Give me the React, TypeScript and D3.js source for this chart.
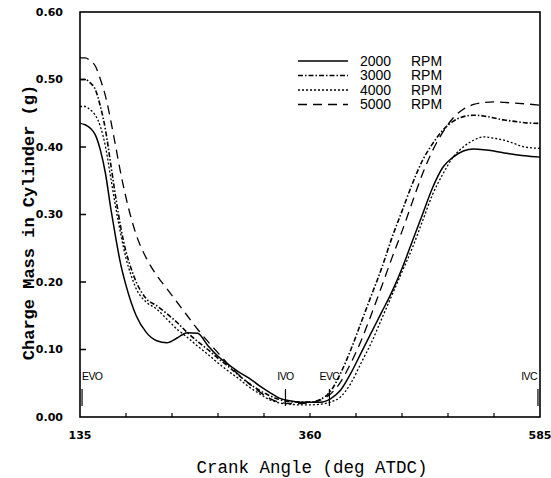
import React, { useEffect, useRef } from 'react';
import * as d3 from 'd3';

// crank angle grid (deg ATDC) shared by all four speed curves
const angles = [135, 140, 145, 150, 155, 160, 165, 170, 175, 180, 185, 190, 200, 210, 220, 230, 240, 250, 260, 270, 280, 290, 300, 310, 320, 330, 340, 350, 360, 370, 380, 390, 400, 410, 420, 430, 440, 450, 460, 470, 480, 490, 500, 510, 520, 530, 540, 550, 560, 570, 585];

const rpm2000 = [0.435, 0.433, 0.428, 0.418, 0.395, 0.36, 0.31, 0.265, 0.225, 0.195, 0.17, 0.15, 0.125, 0.113, 0.11, 0.117, 0.125, 0.124, 0.106, 0.09, 0.078, 0.067, 0.058, 0.047, 0.037, 0.028, 0.024, 0.022, 0.022, 0.022, 0.027, 0.04, 0.065, 0.095, 0.125, 0.155, 0.185, 0.22, 0.26, 0.3, 0.34, 0.37, 0.385, 0.394, 0.397, 0.396, 0.394, 0.391, 0.389, 0.387, 0.385];
const rpm3000 = [0.5, 0.5, 0.495, 0.485, 0.46, 0.425, 0.375, 0.325, 0.28, 0.245, 0.22, 0.2, 0.175, 0.165, 0.153, 0.14, 0.125, 0.112, 0.1, 0.087, 0.075, 0.062, 0.05, 0.04, 0.032, 0.026, 0.023, 0.022, 0.022, 0.026, 0.038, 0.065, 0.1, 0.14, 0.18, 0.22, 0.265, 0.305, 0.345, 0.38, 0.405, 0.425, 0.438, 0.445, 0.447, 0.446, 0.443, 0.44, 0.438, 0.436, 0.435];
const rpm4000 = [0.46, 0.46, 0.455, 0.447, 0.43, 0.4, 0.355, 0.31, 0.27, 0.235, 0.21, 0.19, 0.17, 0.16, 0.145, 0.13, 0.118, 0.105, 0.093, 0.08, 0.068, 0.057, 0.045, 0.035, 0.026, 0.021, 0.019, 0.018, 0.018, 0.019, 0.022, 0.03, 0.05, 0.08, 0.11, 0.145, 0.18, 0.215, 0.25, 0.29, 0.33, 0.36, 0.385, 0.4, 0.41, 0.415, 0.413, 0.41, 0.405, 0.4, 0.398];
const rpm5000 = [0.532, 0.532, 0.528, 0.52, 0.5, 0.475, 0.44, 0.4, 0.36, 0.325, 0.295, 0.27, 0.235, 0.21, 0.19, 0.17, 0.15, 0.13, 0.112, 0.095, 0.078, 0.063, 0.05, 0.038, 0.028, 0.022, 0.02, 0.02, 0.021, 0.025, 0.034, 0.052, 0.08, 0.113, 0.152, 0.193, 0.235, 0.275, 0.318, 0.36, 0.395, 0.422, 0.443, 0.456, 0.463, 0.466, 0.467, 0.466, 0.465, 0.464, 0.462];

const seriesRpm = ['2000', '3000', '4000', '5000'];
const yTicks = [0, 0.1, 0.2, 0.3, 0.4, 0.5, 0.6];
const xLabels = [135, 360, 585];
const xMinorTicks = [180, 225, 270, 315, 360, 405, 450, 495, 540];

// valve events
const eventNames = ['EVO', 'IVO', 'EVC', 'IVC'];
const eventAngles = [137, 336, 379, 583];

export default function App() {
  const ref = useRef<SVGSVGElement | null>(null);

  useEffect(() => {
    const svg = d3.select(ref.current);
    svg.selectAll('*').remove();

    const left = 80, right = 540, top = 12, bottom = 417;

    const x = d3.scaleLinear().domain([135, 585]).range([left, right]);
    const y = d3.scaleLinear().domain([0, 0.6]).range([bottom, top]);

    // frame
    svg.append('rect')
      .attr('x', left).attr('y', top)
      .attr('width', right - left).attr('height', bottom - top)
      .attr('fill', 'none').attr('stroke', 'black').attr('stroke-width', 1.6);

    // y ticks + labels
    yTicks.forEach(t => {
      if (t > 0 && t < 0.6) {
        svg.append('line')
          .attr('x1', left).attr('x2', left + 6)
          .attr('y1', y(t)).attr('y2', y(t))
          .attr('stroke', 'black').attr('stroke-width', 1.5);
      }
      svg.append('text')
        .attr('x', 63).attr('y', y(t))
        .attr('dy', '0.35em')
        .attr('text-anchor', 'end')
        .style('font-family', 'DejaVu Sans, sans-serif')
        .style('font-weight', 'bold')
        .style('font-size', '11px')
        .text(d3.format('.2f')(t));
    });

    // x ticks (small, inward)
    xMinorTicks.forEach(t => {
      svg.append('line')
        .attr('x1', x(t)).attr('x2', x(t))
        .attr('y1', bottom).attr('y2', bottom - 4)
        .attr('stroke', 'black').attr('stroke-width', 1.2);
    });
    xLabels.forEach(t => {
      svg.append('text')
        .attr('x', x(t)).attr('y', 435)
        .attr('dy', '0.35em')
        .attr('text-anchor', 'middle')
        .style('font-family', 'DejaVu Sans, sans-serif')
        .style('font-weight', 'bold')
        .style('font-size', '11px')
        .text(t);
    });

    // axis titles
    svg.append('text')
      .attr('x', (left + right) / 2 + 2).attr('y', 467)
      .attr('dy', '0.35em')
      .attr('text-anchor', 'middle')
      .style('font-family', 'Liberation Mono, monospace')
      .style('font-size', '17.5px')
      .text('Crank Angle (deg ATDC)');

    svg.append('text')
      .attr('transform', `translate(28, ${(top + bottom) / 2 + 8}) rotate(-90)`)
      .attr('dy', '0.35em')
      .attr('text-anchor', 'middle')
      .style('font-family', 'Liberation Mono, monospace')
      .style('font-weight', 'bold')
      .style('font-size', '17px')
      .text('Charge Mass in Cylinder (g)');

    // curves
    const allSeries = [rpm2000, rpm3000, rpm4000, rpm5000];
    const dashes = ['none', '5,2,1.5,2', '2,2', '9,6'];
    const widths = [1.5, 1.6, 1.3, 1.3];
    const line = d3.line<number>()
      .x((_, i) => x(angles[i]))
      .y(d => y(d))
      .curve(d3.curveMonotoneX);

    allSeries.forEach((s, i) => {
      svg.append('path')
        .datum(s)
        .attr('d', line)
        .attr('fill', 'none')
        .attr('stroke', 'black')
        .attr('stroke-width', widths[i])
        .attr('stroke-dasharray', dashes[i]);
    });

    // legend
    seriesRpm.forEach((r, i) => {
      const ly = 61 + i * 14.5;
      svg.append('line')
        .attr('x1', 298).attr('x2', 348)
        .attr('y1', ly).attr('y2', ly)
        .attr('stroke', 'black')
        .attr('stroke-width', widths[i])
        .attr('stroke-dasharray', dashes[i]);
      svg.append('text')
        .attr('x', 360).attr('y', ly)
        .attr('dy', '0.35em')
        .style('font-family', 'Liberation Sans, sans-serif')
        .style('font-size', '14px')
        .text(r);
      svg.append('text')
        .attr('x', 411).attr('y', ly)
        .attr('dy', '0.35em')
        .style('font-family', 'Liberation Sans, sans-serif')
        .style('font-size', '14px')
        .text('RPM');
    });

    // valve event markers
    eventNames.forEach((name, i) => {
      const ex = x(eventAngles[i]);
      svg.append('line')
        .attr('x1', ex).attr('x2', ex)
        .attr('y1', 389).attr('y2', 406)
        .attr('stroke', 'black').attr('stroke-width', 1.2);
      let tx = ex;
      let anchor = 'middle';
      if (i === 0) { tx = ex; anchor = 'start'; }
      if (i === 3) { tx = ex - 1; anchor = 'end'; }
      svg.append('text')
        .attr('x', tx).attr('y', 376)
        .attr('dy', '0.35em')
        .attr('text-anchor', anchor)
        .style('font-family', 'Liberation Sans, sans-serif')
        .style('font-size', '10.5px')
        .style('letter-spacing', '-0.6px')
        .text(name);
    });
  }, []);

  return (
    <svg ref={ref} width={551} height={478}
      style={{ position: 'absolute', left: 0, top: 0, background: 'white' }} />
  );
}
